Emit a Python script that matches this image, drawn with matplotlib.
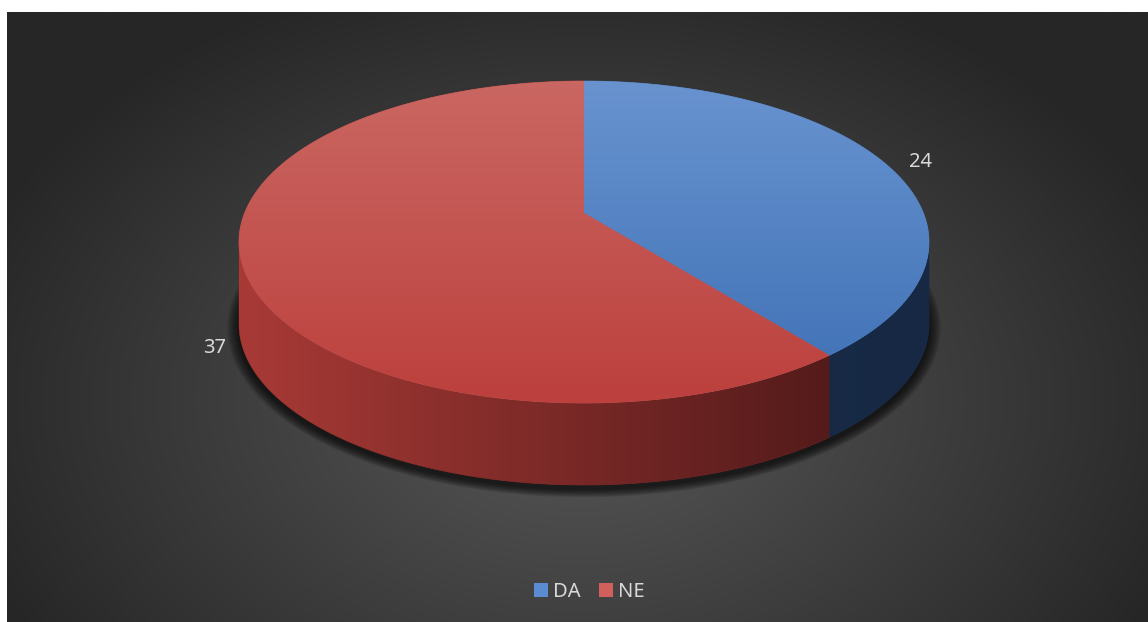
import numpy as np
import matplotlib
matplotlib.use("Agg")
import matplotlib.pyplot as plt
from matplotlib.patches import Polygon, Ellipse, Patch

plt.rcParams["font.family"] = ["Noto Sans", "DejaVu Sans"]

# ---- data ----
categories = ["DA", "NE"]
values = [24, 37]

# ---- styling ----
top_light = [(104, 147, 207), (202, 103, 98)]     # upper part of top face
top_dark = [(62, 112, 181), (188, 64, 61)]         # lower part of top face
side_left = [(30, 52, 86), (168, 58, 54)]          # side wall, left end
side_right = [(22, 40, 67), (70, 22, 22)]          # side wall, right end
legend_colors = ["#5b8bd0", "#d0605b"]
text_color = "#d9d9d9"
font_size = 14.5

W, H = 1148, 622
fig = plt.figure(figsize=(W / 100, H / 100), dpi=100, facecolor="white")
ax = fig.add_axes([0, 0, 1, 1])
ax.set_xlim(0, W)
ax.set_ylim(H, 0)
ax.axis("off")

# chart area with radial background gradient
x0, x1, y0, y1 = 7, W, 12, H
gx, gy = np.meshgrid(np.linspace(x0, x1, 600), np.linspace(y0, y1, 320))
d = np.sqrt(((gx - 580) / 650) ** 2 + ((gy - 400) / 450) ** 2)
d = np.clip(d, 0, 1)
lum = (86 - (86 - 38) * d ** 1.1) / 255
bg = np.dstack([lum, lum, lum])
ax.imshow(bg, extent=[x0, x1, y1, y0], aspect="auto", zorder=0,
          interpolation="bilinear")

# pie geometry: the disc is viewed in perspective from above
cx = 584                              # horizontal centre on screen
y_far, y_near, y_hub = 81, 403, 213   # far rim, near rim, projected hub
depth = 82                            # thickness of the pie in pixels
rx_screen = 345                       # half width of the top outline

# projective mapping y(v) = (a v + b) / (1 + c v) of the disc's depth axis,
# fixed by y(-1) = far rim, y(0) = hub, y(1) = near rim
b_p = y_hub
a_p, c_p = np.linalg.solve(np.array([[-1.0, y_far], [1.0, -y_near]]),
                           np.array([y_far - b_p, y_near - b_p]))
_t = np.linspace(0, 2 * np.pi, 4000)
k_p = rx_screen / np.max(np.cos(_t) / (1 + c_p * np.sin(_t)))


def proj(u, v, dy=0.0):
    w = 1 + c_p * v
    return cx + k_p * u / w, (a_p * v + b_p) / w + dy


def rim(a0, a1, n=240, dy=0.0, r=1.0):
    # angles measured clockwise from 12 o'clock, in degrees
    al = np.radians(np.linspace(a0, a1, n))
    x, y = proj(r * np.sin(al), -r * np.cos(al), dy)
    return np.column_stack([x, y])


def gradient_image(c_a, c_b, n=256, horizontal=True):
    c_a = np.array(c_a) / 255.0
    c_b = np.array(c_b) / 255.0
    t = np.linspace(0, 1, n)[:, None]
    g = c_a * (1 - t) + c_b * t
    if horizontal:
        return g[None, :, :]
    return g[:, None, :]


# silhouette angles where the side wall becomes visible
_al = np.linspace(0, 360, 36001)
_xs, _ = proj(np.sin(np.radians(_al)), -np.cos(np.radians(_al)))
a_right = _al[np.argmax(_xs)]
a_left = _al[np.argmin(_xs)]
ell_cy = (y_far + y_near) / 2
ell_ry = (y_near - y_far) / 2

# soft shadow under the pie
for i in range(10):
    s = 1 + i * 1.2
    ax.add_patch(Ellipse((cx, ell_cy + depth + 4), 2 * (rx_screen + s),
                         2 * (ell_ry + s * 0.7), facecolor="black",
                         edgecolor="none", alpha=0.09, zorder=1))

total = float(sum(values))
bounds = 360 * np.concatenate([[0], np.cumsum(values) / total])

# side walls (front part only)
for i in range(len(values)):
    a0, a1 = bounds[i], bounds[i + 1]
    lo, hi = max(a0, a_right), min(a1, a_left)
    if hi <= lo:
        continue
    pts = np.vstack([rim(lo, hi), rim(hi, lo, dy=depth)])
    base = tuple(np.mean([side_left[i], side_right[i]], axis=0) / 255)
    poly = Polygon(pts, closed=True, facecolor=base, edgecolor=base,
                   linewidth=0.5, zorder=2)
    ax.add_patch(poly)
    im = ax.imshow(gradient_image(side_left[i], side_right[i]),
                   extent=[cx - rx_screen, cx + rx_screen,
                           y_near + depth, ell_cy],
                   aspect="auto", zorder=2.5, interpolation="bilinear")
    im.set_clip_path(poly)

# top faces
hub = proj(0.0, 0.0)
for i in range(len(values)):
    a0, a1 = bounds[i], bounds[i + 1]
    pts = np.vstack([[hub[0], hub[1]], rim(a0, a1)])
    base = tuple(np.mean([top_light[i], top_dark[i]], axis=0) / 255)
    poly = Polygon(pts, closed=True, facecolor=base, edgecolor=base,
                   linewidth=0.5, zorder=3)
    ax.add_patch(poly)
    im = ax.imshow(gradient_image(top_light[i], top_dark[i], horizontal=False),
                   extent=[cx - rx_screen, cx + rx_screen, y_near, y_far],
                   aspect="auto", zorder=3.5, interpolation="bilinear")
    im.set_clip_path(poly)

# value labels just outside each slice
label_shift = [(5, 2), (8, 75)]
for i, v in enumerate(values):
    mid = np.radians((bounds[i] + bounds[i + 1]) / 2)
    px, py = proj(1.1 * np.sin(mid), -1.1 * np.cos(mid))
    ax.text(px + label_shift[i][0], py + label_shift[i][1], str(v),
            color=text_color, fontsize=font_size, ha="center", va="center",
            zorder=5)

# legend
handles = [Patch(facecolor=c, edgecolor="none", label=l)
           for c, l in zip(legend_colors, categories)]
leg = ax.legend(handles=handles, loc="center", ncol=2, frameon=False,
                bbox_to_anchor=(589 / W, 1 - 592 / H), fontsize=font_size,
                handlelength=0.7, handleheight=0.7, handletextpad=0.25,
                columnspacing=0.9, borderaxespad=0)
for t in leg.get_texts():
    t.set_color(text_color)

fig.savefig("out.png", dpi=100, facecolor="white")
